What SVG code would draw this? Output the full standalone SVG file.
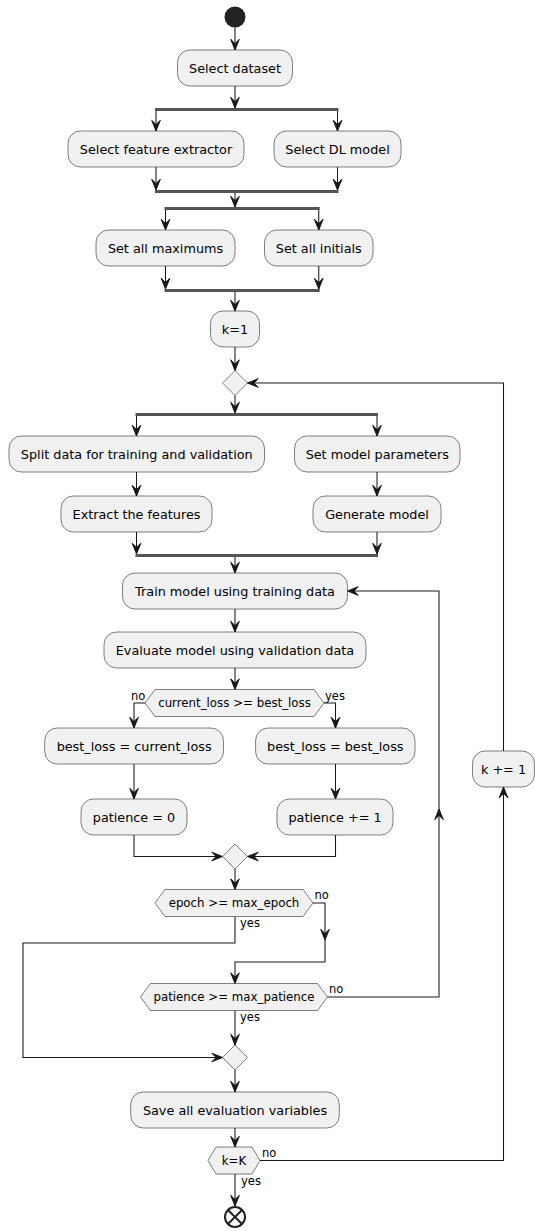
<svg xmlns="http://www.w3.org/2000/svg" width="535" height="1231" viewBox="0 0 535 1231">
<style>
.box{fill:#F1F1F1;stroke:#181818;stroke-width:0.55}
.hex{fill:#F1F1F1;stroke:#181818;stroke-width:0.55}
.bar{fill:#555555;stroke:none}
.ln{fill:none;stroke:#181818;stroke-width:1.05}
.t{font-family:"DejaVu Sans",Verdana,sans-serif;font-size:12.8px;fill:#000;text-anchor:middle}
.ht{font-family:"DejaVu Sans",Verdana,sans-serif;font-size:11.8px;fill:#000;text-anchor:middle}
.lb{font-family:"DejaVu Sans",Verdana,sans-serif;font-size:11.5px;fill:#000}
.ah{fill:#181818;stroke:#181818;stroke-width:1}
</style>
<defs>
<path id="ah" class="ah" d="M0,0 L-4.3,-10.7 L0,-6.4 L4.3,-10.7 Z"/>
</defs>
<rect width="535" height="1231" fill="#FFFFFF"/>

<g id="connectors">
<path class="ln" d="M235,27.5V50"/><use href="#ah" transform="translate(235,50)"/>
<path class="ln" d="M235,86V108"/><use href="#ah" transform="translate(235,108)"/>
<path class="ln" d="M156,111V131"/><use href="#ah" transform="translate(156,131)"/>
<path class="ln" d="M337.5,111V131"/><use href="#ah" transform="translate(337.5,131)"/>
<path class="ln" d="M156,167V190"/><use href="#ah" transform="translate(156,190)"/>
<path class="ln" d="M337.5,167V190"/><use href="#ah" transform="translate(337.5,190)"/>
<path class="ln" d="M235,193V207"/><use href="#ah" transform="translate(235,207)"/>
<path class="ln" d="M165.5,210V230"/><use href="#ah" transform="translate(165.5,230)"/>
<path class="ln" d="M318.75,210V230"/><use href="#ah" transform="translate(318.75,230)"/>
<path class="ln" d="M165.5,266V289"/><use href="#ah" transform="translate(165.5,289)"/>
<path class="ln" d="M318.75,266V289"/><use href="#ah" transform="translate(318.75,289)"/>
<path class="ln" d="M235,292V311"/><use href="#ah" transform="translate(235,311)"/>
<path class="ln" d="M235,347V370.5"/><use href="#ah" transform="translate(235,370.5)"/>
<path class="ln" d="M235,395.5V413"/><use href="#ah" transform="translate(235,413)"/>
<path class="ln" d="M136.5,416V436"/><use href="#ah" transform="translate(136.5,436)"/>
<path class="ln" d="M377,416V436"/><use href="#ah" transform="translate(377,436)"/>
<path class="ln" d="M136.5,472V496"/><use href="#ah" transform="translate(136.5,496)"/>
<path class="ln" d="M377,472V496"/><use href="#ah" transform="translate(377,496)"/>
<path class="ln" d="M136.5,532V554"/><use href="#ah" transform="translate(136.5,554)"/>
<path class="ln" d="M377,532V554"/><use href="#ah" transform="translate(377,554)"/>
<path class="ln" d="M235,557V573"/><use href="#ah" transform="translate(235,573)"/>
<path class="ln" d="M235,609V632"/><use href="#ah" transform="translate(235,632)"/>
<path class="ln" d="M235,668V689.5"/><use href="#ah" transform="translate(235,689.5)"/>
<path class="ln" d="M145,703H134V728"/><use href="#ah" transform="translate(134,728)"/>
<path class="ln" d="M324,703H335.5V728"/><use href="#ah" transform="translate(335.5,728)"/>
<path class="ln" d="M134,764V799"/><use href="#ah" transform="translate(134,799)"/>
<path class="ln" d="M335.5,764V799"/><use href="#ah" transform="translate(335.5,799)"/>
<path class="ln" d="M134,835V856.5H222.5"/><use href="#ah" transform="translate(222.5,856.5) rotate(-90)"/>
<path class="ln" d="M335.5,835V856.5H247.5"/><use href="#ah" transform="translate(247.5,856.5) rotate(90)"/>
<path class="ln" d="M235,869V889.5"/><use href="#ah" transform="translate(235,889.5)"/>
<path class="ln" d="M313,903H325V962H235V983.5"/><use href="#ah" transform="translate(325,940)"/><use href="#ah" transform="translate(235,983.5)"/>
<path class="ln" d="M235,916.5V943H23V1057.5H222.5"/><use href="#ah" transform="translate(222.5,1057.5) rotate(-90)"/>
<path class="ln" d="M327.5,997H439V591H347.5"/><use href="#ah" transform="translate(439,809) rotate(180)"/><use href="#ah" transform="translate(347.5,591) rotate(90)"/>
<path class="ln" d="M235,1010.5V1045"/><use href="#ah" transform="translate(235,1045)"/>
<path class="ln" d="M235,1070V1092"/><use href="#ah" transform="translate(235,1092)"/>
<path class="ln" d="M235,1128V1147"/><use href="#ah" transform="translate(235,1147)"/>
<path class="ln" d="M260,1160.5H503.5V787"/><use href="#ah" transform="translate(503.5,787) rotate(180)"/>
<path class="ln" d="M503.5,751V383H247.5"/><use href="#ah" transform="translate(247.5,383) rotate(90)"/>
<path class="ln" d="M235,1174V1206"/><use href="#ah" transform="translate(235,1206)"/>
<text class="lb" x="131" y="700">no</text>
<text class="lb" x="325" y="700">yes</text>
<text class="lb" x="314.5" y="899">no</text>
<text class="lb" x="240" y="927">yes</text>
<text class="lb" x="329" y="993">no</text>
<text class="lb" x="240" y="1021">yes</text>
<text class="lb" x="262" y="1157">no</text>
<text class="lb" x="241" y="1185">yes</text>
</g>

<g id="start"><circle cx="235" cy="17" r="10.5" fill="#222222"/></g>
<g id="n_dataset"><rect class="box" x="177.5" y="50" width="115" height="36" rx="12.5"/><text class="t" x="235" y="72.5">Select dataset</text></g>
<g id="fork1"><rect class="bar" x="155" y="108" width="183.5" height="3"/></g>
<g id="n_feature"><rect class="box" x="68" y="131" width="176" height="36" rx="12.5"/><text class="t" x="156" y="153.5">Select feature extractor</text></g>
<g id="n_dl"><rect class="box" x="274" y="131" width="127" height="36" rx="12.5"/><text class="t" x="337.5" y="153.5">Select DL model</text></g>
<g id="join1"><rect class="bar" x="155" y="190" width="183.5" height="3"/></g>
<g id="fork2"><rect class="bar" x="164.5" y="207" width="155.25" height="3"/></g>
<g id="n_max"><rect class="box" x="96" y="230" width="139" height="36" rx="12.5"/><text class="t" x="165.5" y="252.5">Set all maximums</text></g>
<g id="n_init"><rect class="box" x="264.5" y="230" width="108.5" height="36" rx="12.5"/><text class="t" x="318.75" y="252.5">Set all initials</text></g>
<g id="join2"><rect class="bar" x="164.5" y="289" width="155.25" height="3"/></g>
<g id="n_k1"><rect class="box" x="210.5" y="311" width="49" height="36" rx="12.5"/><text class="t" x="235" y="333.5">k=1</text></g>
<g id="loop_k"><polygon class="hex" points="235,370.5 247.5,383 235,395.5 222.5,383"/></g>
<g id="fork3"><rect class="bar" x="135.5" y="413" width="242.5" height="3"/></g>
<g id="n_split"><rect class="box" x="9" y="436" width="255.5" height="36" rx="12.5"/><text class="t" x="136.75" y="458.5">Split data for training and validation</text></g>
<g id="n_params"><rect class="box" x="294.5" y="436" width="165.5" height="36" rx="12.5"/><text class="t" x="377.25" y="458.5">Set model parameters</text></g>
<g id="n_extract"><rect class="box" x="61" y="496" width="151" height="36" rx="12.5"/><text class="t" x="136.5" y="518.5">Extract the features</text></g>
<g id="n_generate"><rect class="box" x="313" y="496" width="128" height="36" rx="12.5"/><text class="t" x="377" y="518.5">Generate model</text></g>
<g id="join3"><rect class="bar" x="135.5" y="554" width="242.5" height="3"/></g>
<g id="n_train"><rect class="box" x="122.5" y="573" width="225" height="36" rx="12.5"/><text class="t" x="235" y="595.5">Train model using training data</text></g>
<g id="n_eval"><rect class="box" x="104" y="632" width="262" height="36" rx="12.5"/><text class="t" x="235" y="654.5">Evaluate model using validation data</text></g>
<g id="d_loss"><polygon class="hex" points="145,703 155,689.5 314,689.5 324,703 314,716.5 155,716.5"/><text class="ht" x="234.5" y="707.2">current_loss &gt;= best_loss</text></g>
<g id="n_blcur"><rect class="box" x="44.7" y="728" width="178.8" height="36" rx="12.5"/><text class="t" x="134.1" y="750.5">best_loss = current_loss</text></g>
<g id="n_blbest"><rect class="box" x="255.6" y="728" width="159.4" height="36" rx="12.5"/><text class="t" x="335.3" y="750.5">best_loss = best_loss</text></g>
<g id="n_pat0"><rect class="box" x="81" y="799" width="106" height="36" rx="12.5"/><text class="t" x="134" y="821.5">patience = 0</text></g>
<g id="n_pat1"><rect class="box" x="277" y="799" width="116" height="36" rx="12.5"/><text class="t" x="335" y="821.5">patience += 1</text></g>
<g id="merge1"><polygon class="hex" points="235,844 247.5,856.5 235,869 222.5,856.5"/></g>
<g id="d_epoch"><polygon class="hex" points="155,903 165,889.5 303,889.5 313,903 303,916.5 165,916.5"/><text class="ht" x="234" y="907.2">epoch &gt;= max_epoch</text></g>
<g id="d_patience"><polygon class="hex" points="140.5,997 150.5,983.5 317.5,983.5 327.5,997 317.5,1010.5 150.5,1010.5"/><text class="ht" x="234" y="1001.2">patience &gt;= max_patience</text></g>
<g id="merge2"><polygon class="hex" points="235,1045 247.5,1057.5 235,1070 222.5,1057.5"/></g>
<g id="n_save"><rect class="box" x="130.7" y="1092" width="208.6" height="36" rx="12.5"/><text class="t" x="235" y="1114.5">Save all evaluation variables</text></g>
<g id="d_kK"><polygon class="hex" points="208,1160.5 216,1147 252,1147 260,1160.5 252,1174 216,1174"/><text class="ht" x="234" y="1164.7">k=K</text></g>
<g id="n_kinc"><rect class="box" x="472.5" y="751" width="62" height="36" rx="12.5"/><text class="t" x="503.5" y="773.5">k += 1</text></g>
<g id="end"><circle cx="235" cy="1217" r="10" fill="#FFFFFF" stroke="#222222" stroke-width="2"/><path d="M228,1210L242,1224M242,1210L228,1224" stroke="#222222" stroke-width="2"/></g>
</svg>
